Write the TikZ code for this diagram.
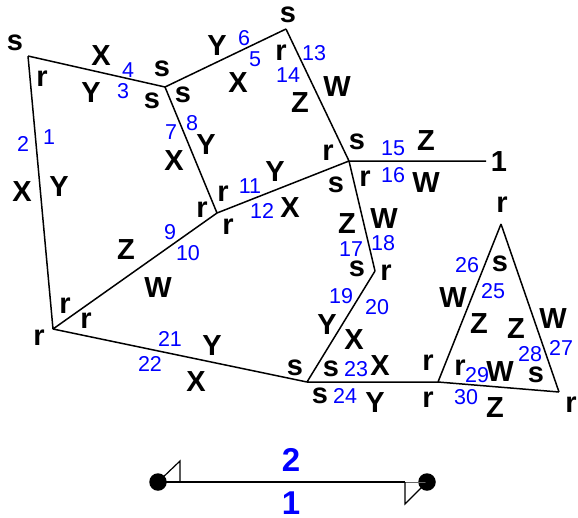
\documentclass[tikz,border=0pt]{standalone}
\usepackage{fontspec}
\setmainfont{Liberation Sans}
\tikzset{
  edge/.style={draw=black,line width=1.5pt,line join=miter},
  letter/.style={inner sep=0pt,font=\fontsize{29}{29}\selectfont\bfseries,text=black},
  num/.style={inner sep=0pt,font=\fontsize{21.5}{21.5}\selectfont,text=blue},
  legend/.style={inner sep=0pt,font=\fontsize{33}{33}\selectfont\bfseries,text=blue},
  dot/.style={circle,fill=black,inner sep=0pt,minimum size=17.5pt},
  flag/.style={draw=black,line width=1.2pt,line join=miter},
}
\begin{document}
\begin{tikzpicture}[x=1pt,y=-1pt]
\useasboundingbox (0,0) rectangle (578,517);
\coordinate (A) at (28,56);
\coordinate (B) at (165,87);
\coordinate (C) at (286,29);
\coordinate (D) at (349,161);
\coordinate (E) at (217,213);
\coordinate (F) at (53,329);
\coordinate (G) at (375,271);
\coordinate (H) at (307,382);
\coordinate (I) at (438,382);
\coordinate (J) at (501,224);
\coordinate (K) at (559,392);
\coordinate (L) at (486,161);
\draw[edge] (A)--(B) (B)--(C) (C)--(D) (D)--(L) (B)--(E) (E)--(D) (D)--(G) (G)--(H)
  (A)--(F) (F)--(E) (F)--(H) (H)--(I) (I)--(J) (J)--(K) (K)--(I);
\foreach \x/\y/\t [count=\i] in {
 15/43/s,42/79/r,101/56/X,91/93/Y,162/69/s,152/101/s,183/95/s,217/46/Y,238/83/X,281/53/r,288/15/s,
 206/145/Y,174/161/X,22/192/X,59/187/Y,275/172/Y,290/208/X,223/194/r,202/210/r,228/227/r,126/250/Z,
 337/87/W,300/103/Z,357/142/s,328/153/r,426/141/Z,499/162/1,426/183/W,365/179/r,336/185/s,347/224/Z,384/219/W,502/205/r,
 158/288/W,65/306/r,86/321/r,39/338/r,212/346/Y,196/382/X,
 357/269/s,386/273/r,327/325/Y,354/340/X,331/369/s,380/366/X,295/368/s,320/396/s,375/403/Y,428/363/r,428/400/r,460/368/r,
 500/372/W,495/408/Z,536/375/s,571/405/r,516/329/Z,553/319/W,479/324/Z,453/298/W,500/264/s}
 \node[letter] (lab\i) at (\x,\y) {\t};
\foreach \x/\y/\t [count=\i] in {
 49/137/1,23/144/2,123/91/3,128/70/4,255/59/5,244/38/6,171/132/7,192/123/8,170/232/9,188/253/10,
 250/186/11,262/211/12,314/53/13,288/75/14,393/148/15,393/175/16,351/249/17,383/243/18,341/296/19,377/307/20,
 170/339/21,150/364/22,356/369/23,345/396/24,493/291/25,467/265/26,561/348/27,530/354/28,477/375/29,466/397/30}
 \node[num] (n\i) at (\x,\y) {\t};
\node[dot] (P) at (158,482) {};
\node[dot] (Q) at (427,482) {};
\coordinate (PF) at (180,482);
\coordinate (PT) at (180,461);
\coordinate (QF) at (405,482);
\coordinate (QT) at (405,504);
\draw[line width=2.2pt] (P.center)--(QF);
\draw[line width=0.8pt,black!60] (QF)--(Q.center);
\draw[flag] (P.center)--(PT)--(PF);
\draw[flag] (Q.center)--(QT)--(QF);
\node[legend] (two) at (291,460) {2};
\node[legend] (one) at (291,503) {1};
\end{tikzpicture}
\end{document}
